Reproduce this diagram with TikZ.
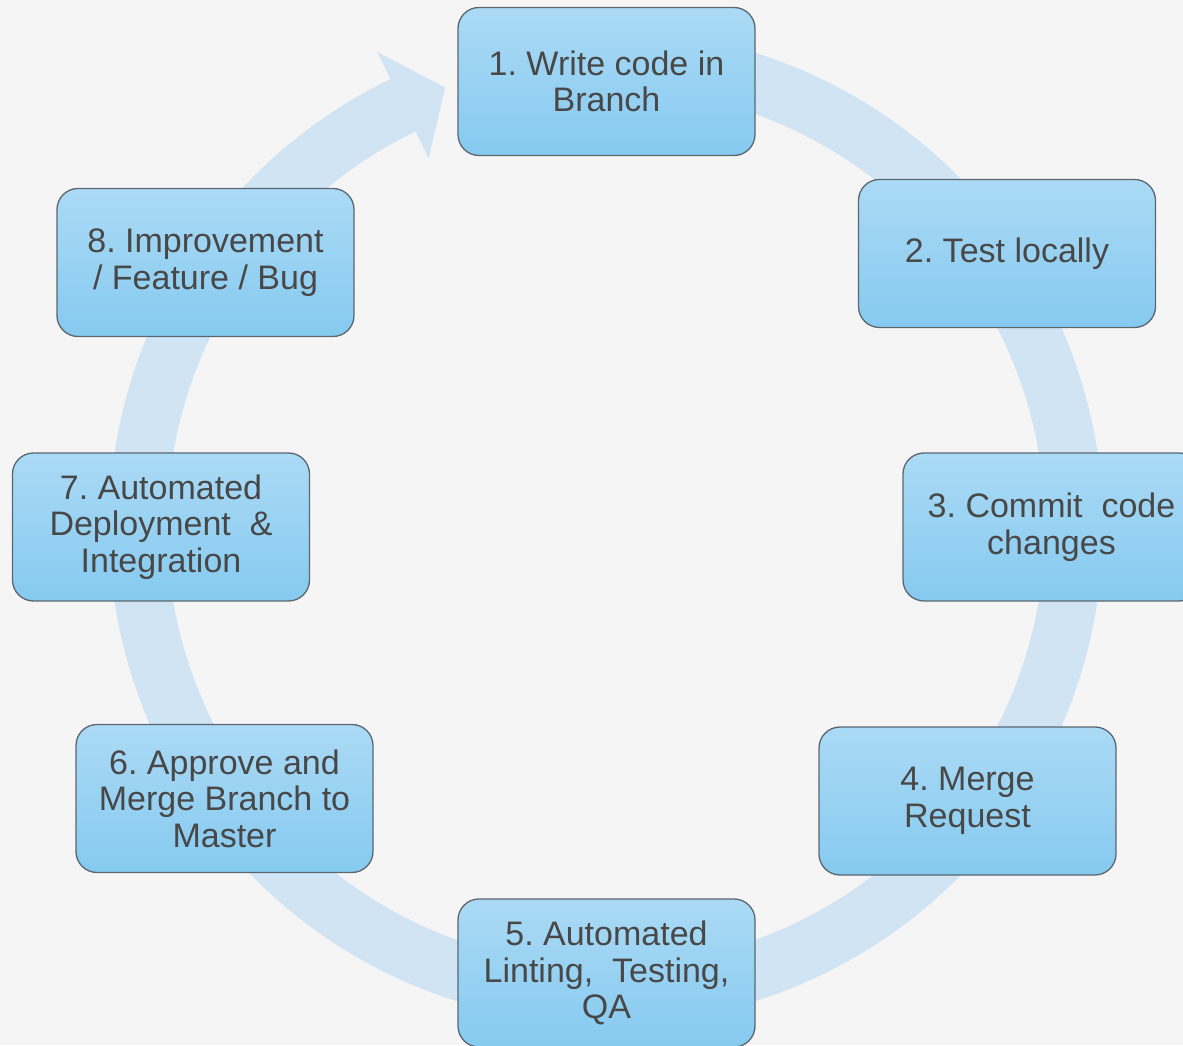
\documentclass[tikz,border=0pt]{standalone}
\usepackage{fontspec}
\setmainfont{Liberation Sans}
\usetikzlibrary{calc}
\definecolor{bgc}{HTML}{F5F5F5}
\definecolor{ringc}{HTML}{D0E4F4}
\definecolor{boxtop}{HTML}{ABDAF5}
\definecolor{boxbot}{HTML}{86CAF0}
\definecolor{boxline}{HTML}{5B6770}
\definecolor{txtc}{HTML}{484848}
\tikzset{
  cbox/.style={rectangle, rounded corners=21pt, draw=boxline, line width=1.3pt,
    top color=boxtop, bottom color=boxbot, minimum width=297pt, minimum height=148pt,
    align=center, text=txtc, inner sep=0pt,
    font=\fontsize{34}{36.5}\selectfont\frenchspacing},
  ring/.style={draw=ringc, line width=58pt},
  ringhead/.style={fill=ringc}
}
\begin{document}
\begin{tikzpicture}[x=1pt,y=1pt]
\fill[bgc] (0,0) rectangle (1183,1045);
\useasboundingbox (0,0) rectangle (1183,1045);
\coordinate (c) at (606,518);
% ring with arrowhead
\draw[ring] ($(c)+(80:468)$) arc[start angle=80, end angle=-245, radius=468];
\coordinate (w1) at ($(c)+(115.7:527)$);
\coordinate (w2) at ($(c)+(115.7:409)$);
\coordinate (tip) at ($(c)+(110.1:468)$);
\fill[ringhead] (w1) -- (tip) -- (w2) -- cycle;
% boxes
\node[cbox] (b1) at (606.5,963.5) {1. Write code in\\Branch};
\node[cbox] (b2) at (1007,791.5) {2. Test locally};
\node[cbox] (b3) at (1051.5,518) {3. Commit\ \ code\\changes};
\node[cbox] (b4) at (967.5,244) {4. Merge\\Request};
\node[cbox] (b5) at (606.5,72) {5. Automated\\Linting,\ \ Testing,\\QA};
\node[cbox] (b6) at (224.5,246.5) {6. Approve and\\Merge Branch to\\Master};
\node[cbox] (b7) at (161,518) {7. Automated\\Deployment\ \ \&\\Integration};
\node[cbox] (b8) at (205.5,782.5) {8. Improvement\\/ Feature / Bug};
\end{tikzpicture}
\end{document}
